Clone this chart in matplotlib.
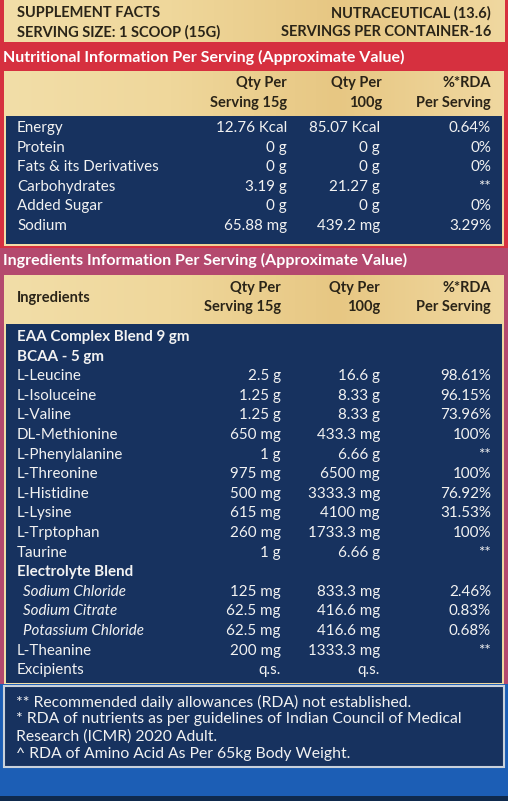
import matplotlib
matplotlib.use("Agg")
import matplotlib.pyplot as plt
from matplotlib.patches import Rectangle
from matplotlib.colors import LinearSegmentedColormap
import numpy as np

# ---- data ----
nutr_names = ["Energy", "Protein", "Fats & its Derivatives", "Carbohydrates", "Added Sugar", "Sodium"]
nutr_serving = ["12.76 Kcal", "0 g", "0 g", "3.19 g", "0 g", "65.88 mg"]
nutr_100g = ["85.07 Kcal", "0 g", "0 g", "21.27 g", "0 g", "439.2 mg"]
nutr_rda = ["0.64%", "0%", "0%", "**", "0%", "3.29%"]

ingr_names = ["EAA Complex Blend 9 gm", "BCAA - 5 gm", "L-Leucine", "L-Isoluceine", "L-Valine",
              "DL-Methionine", "L-Phenylalanine", "L-Threonine", "L-Histidine", "L-Lysine",
              "L-Trptophan", "Taurine", "Electrolyte Blend", "Sodium Chloride", "Sodium Citrate",
              "Potassium Chloride", "L-Theanine", "Excipients"]
ingr_serving = ["", "", "2.5 g", "1.25 g", "1.25 g", "650 mg", "1 g", "975 mg", "500 mg", "615 mg",
                "260 mg", "1 g", "", "125 mg", "62.5 mg", "62.5 mg", "200 mg", "q.s."]
ingr_100g = ["", "", "16.6 g", "8.33 g", "8.33 g", "433.3 mg", "6.66 g", "6500 mg", "3333.3 mg",
             "4100 mg", "1733.3 mg", "6.66 g", "", "833.3 mg", "416.6 mg", "416.6 mg", "1333.3 mg", "q.s."]
ingr_rda = ["", "", "98.61%", "96.15%", "73.96%", "100%", "**", "100%", "76.92%", "31.53%",
            "100%", "**", "", "2.46%", "0.83%", "0.68%", "**", ""]
ingr_style = ["bold", "bold", "", "", "", "", "", "", "", "", "", "", "bold",
              "italic", "italic", "italic", "", ""]

footnotes = ["** Recommended daily allowances (RDA) not established.",
             "* RDA of nutrients as per guidelines of Indian Council of Medical",
             "Research (ICMR) 2020 Adult.",
             "^ RDA of Amino Acid As Per 65kg Body Weight."]

NAVY = "#17325f"
RED = "#d6303f"
MAUVE = "#b4496e"
DARK = "#2a2418"
WHITE = "#f2f2f2"
FONT = "Lato"
FS = 10.9      # table rows
FSH = 10.5     # bold headers
FSB = 11.5     # coloured band titles

fig = plt.figure(figsize=(5.08, 8.01), dpi=100)
ax = fig.add_axes([0, 0, 1, 1])
ax.set_xlim(0, 508)
ax.set_ylim(801, 0)
ax.axis("off")

beige = np.linspace(0, 1, 200).reshape(1, -1)
gold = LinearSegmentedColormap.from_list("gold", ["#f2dea8", "#efd79b", "#e7c783", "#f0d8a0"])


def gold_box(x0, y0, x1, y1):
    ax.imshow(beige, cmap=gold, aspect="auto", extent=(x0, x1, y1, y0), zorder=1)


def rect(x0, y0, x1, y1, fc, ec="none", lw=0, z=1):
    ax.add_patch(Rectangle((x0, y0), x1 - x0, y1 - y0, facecolor=fc, edgecolor=ec, linewidth=lw, zorder=z))


# background bands
rect(0, 0, 508, 248, RED)
rect(0, 248, 508, 684, MAUVE)
rect(0, 684, 508, 801, "#1c5eb5")
rect(0, 796, 508, 801, "#0f2a4d", z=2)

# top header
gold_box(4, 0, 505, 42)
t = dict(family=FONT, fontsize=FSH, color=DARK, fontweight="bold", va="center")
ax.text(17, 13, "SUPPLEMENT FACTS", ha="left", **t)
ax.text(491, 13, "NUTRACEUTICAL (13.6)", ha="right", **t)
ax.text(17, 32, "SERVING SIZE: 1 SCOOP (15G)", ha="left", **t)
ax.text(491, 32, "SERVINGS PER CONTAINER-16", ha="right", **t)

ax.text(3, 57, "Nutritional Information Per Serving (Approximate Value)", family=FONT,
        fontsize=FSB, color="white", fontweight="bold", va="center", zorder=3)

# column headers for table 1
gold_box(4, 71, 504, 246)
hd = dict(family=FONT, fontsize=FSH, color=DARK, fontweight="bold", va="center", ha="right", zorder=3)
ax.text(287, 83, "Qty Per", **hd)
ax.text(287, 103, "Serving 15g", **hd)
ax.text(382, 83, "Qty Per", **hd)
ax.text(382, 103, "100g", **hd)
ax.text(491, 83, "%*RDA", **hd)
ax.text(491, 103, "Per Serving", **hd)

rect(6, 116, 502, 244, NAVY, z=2)

row = dict(family=FONT, fontsize=FS, color=WHITE, va="center", zorder=3)
for i, name in enumerate(nutr_names):
    y = 128 + i * 19.6
    ax.text(17, y, name, ha="left", **row)
    ax.text(287, y, nutr_serving[i], ha="right", **row)
    ax.text(380, y, nutr_100g[i], ha="right", **row)
    ax.text(491, y, nutr_rda[i], ha="right", **row)

ax.text(3, 260, "Ingredients Information Per Serving (Approximate Value)", family=FONT,
        fontsize=FSB, color="white", fontweight="bold", va="center", zorder=3)

# table 2
gold_box(4, 275, 504, 684)
ax.text(17, 298, "Ingredients", family=FONT, fontsize=FSH, color=DARK, fontweight="bold",
        va="center", ha="left", zorder=3)
ax.text(281, 288, "Qty Per", **hd)
ax.text(281, 307, "Serving 15g", **hd)
ax.text(380, 288, "Qty Per", **hd)
ax.text(380, 307, "100g", **hd)
ax.text(491, 288, "%*RDA", **hd)
ax.text(491, 307, "Per Serving", **hd)

rect(6, 324, 502, 683, NAVY, z=2)
for i, name in enumerate(ingr_names):
    y = 337 + i * 19.6
    st = ingr_style[i]
    kw = dict(row)
    x = 17
    if st == "bold":
        kw["fontweight"] = "bold"
    elif st == "italic":
        kw["fontstyle"] = "italic"
        x = 23
    ax.text(x, y, name, ha="left", **kw)
    ax.text(281, y, ingr_serving[i], ha="right", **row)
    ax.text(380, y, ingr_100g[i], ha="right", **row)
    ax.text(491, y, ingr_rda[i], ha="right", **row)

# footnotes
rect(4, 686, 504, 767, NAVY, ec="#c9d2dc", lw=1.5, z=2)
for i, line in enumerate(footnotes):
    ax.text(16, 702 + i * 17.2, line, family=FONT, fontsize=11.3, color=WHITE,
            va="center", ha="left", zorder=3)

fig.savefig("out.png", dpi=100)
